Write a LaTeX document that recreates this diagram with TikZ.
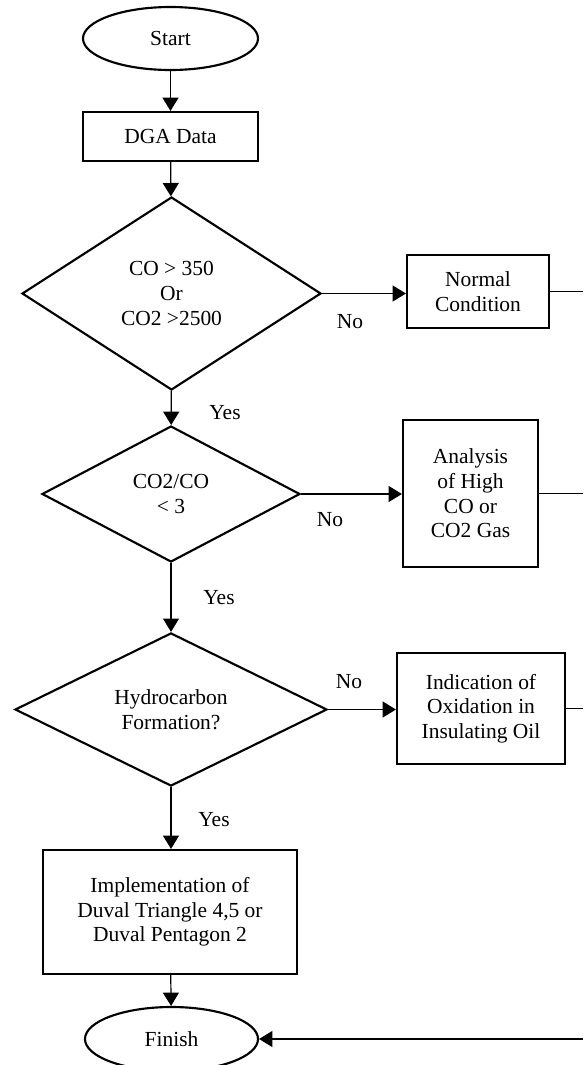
\documentclass[tikz,border=0pt]{standalone}
\usepackage{fontspec}
\setmainfont{Liberation Serif}
\usetikzlibrary{shapes.geometric,arrows.meta}
\tikzset{
  terminal/.style={ellipse,draw,line width=1.6pt,inner sep=0pt},
  procbox/.style={rectangle,draw,line width=1.6pt,inner sep=0pt,align=center},
  decision/.style={diamond,draw,line width=1.6pt,inner sep=0pt,align=center},
  flow/.style={line width=0.9pt,-{Triangle[length=10pt,width=12pt]}},
  link/.style={line width=0.9pt},
  tag/.style={inner sep=0pt}
}
\begin{document}
\begin{tikzpicture}[x=0.75pt,y=-0.75pt,font=\fontsize{16.1}{18.5}\selectfont]
\useasboundingbox (0,0) rectangle (583,1065);
\node[terminal,minimum width=131.25pt,minimum height=47.25pt] (start) at (170.5,38.5) {Start};
\node[procbox,minimum width=131.25pt,minimum height=36.75pt] (dga) at (170.5,136.5) {DGA Data};
\node[decision,minimum width=224.25pt,minimum height=144.75pt] (dec1) at (171.5,293.5) {CO > 350\\Or\\CO2 >2500};
\node[procbox,minimum width=106.5pt,minimum height=54.75pt] (normal) at (478,291.5) {Normal\\Condition};
\node[decision,minimum width=193.5pt,minimum height=102pt] (dec2) at (171,494) {CO2/CO\\< 3};
\node[procbox,minimum width=101.25pt,minimum height=110.25pt] (analysis) at (470.5,493.5) {Analysis\\of High\\CO or\\CO2 Gas};
\node[decision,minimum width=234pt,minimum height=111.75pt] (dec3) at (171,709.5) {Hydrocarbon\\Formation?};
\node[procbox,minimum width=126pt,minimum height=83.25pt] (oxid) at (481,708.5) {Indication of\\Oxidation in\\Insulating Oil};
\node[procbox,minimum width=190.5pt,minimum height=93pt] (impl) at (170,912) {Implementation of\\Duval Triangle 4,5 or\\Duval Pentagon 2};
\node[terminal,minimum width=129.75pt,minimum height=48pt] (finish) at (171.5,1039) {Finish};
\coordinate (edge) at (583,0);
% main column
\draw[flow] (start) -- (dga);
\draw[flow] (dga) -- (dec1);
\draw[flow] (dec1) -- (dec2);
\draw[flow] (dec2) -- (dec3);
\draw[flow] (dec3.south) -- (dec3.south |- impl.north);
\draw[flow] (impl) -- (finish);
% side branches
\draw[flow] (dec1.east) -- (dec1.east -| normal.west);
\draw[flow] (dec2.east) -- (dec2.east -| analysis.west);
\draw[flow] (dec3.east) -- (dec3.east -| oxid.west);
\draw[link] (normal.east) -- (normal.east -| edge);
\draw[link] (analysis.east) -- (analysis.east -| edge);
\draw[link] (oxid.east) -- (oxid.east -| edge);
\draw[flow] (finish.east -| edge) -- (finish.east);
% labels
\node[tag] (no1) at (350,322) {No};
\node[tag] (no2) at (330,520) {No};
\node[tag] (no3) at (349,682) {No};
\node[tag] (yes1) at (225,413) {Yes};
\node[tag] (yes2) at (219,598) {Yes};
\node[tag] (yes3) at (214,820) {Yes};
\end{tikzpicture}
\end{document}
